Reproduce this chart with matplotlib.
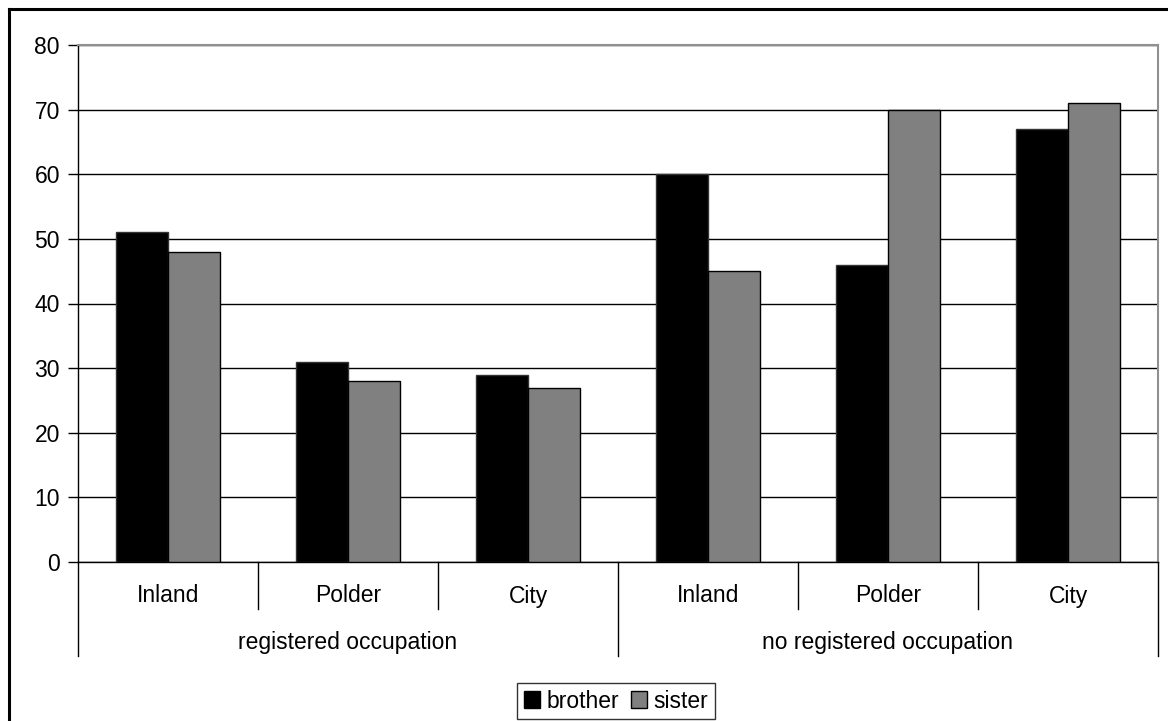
import matplotlib
matplotlib.use("Agg")
import matplotlib.pyplot as plt
from matplotlib.lines import Line2D
from matplotlib.patches import Patch
import numpy as np

plt.rcParams['font.family'] = ['Liberation Sans', 'DejaVu Sans']

categories = ["Inland", "Polder", "City", "Inland", "Polder", "City"]
groups = ["registered occupation", "no registered occupation"]
brother = [51, 31, 29, 60, 46, 67]
sister = [48, 28, 27, 45, 70, 71]
yticks = [0, 10, 20, 30, 40, 50, 60, 70, 80]

FS = 16.5
W, H = 1168, 721
fig = plt.figure(figsize=(W / 100, H / 100), dpi=100)
ax = fig.add_axes([78 / W, 1 - 562 / H, (1158 - 78) / W, (562 - 45) / H])

x = np.arange(len(categories))
bw = 0.29
ax.bar(x - bw / 2, brother, width=bw, color="black", edgecolor="#333333", linewidth=1, zorder=3)
ax.bar(x + bw / 2, sister, width=bw, color="#808080", edgecolor="black", linewidth=1, zorder=3)

ax.set_xlim(-0.5, len(categories) - 0.5)
ax.set_ylim(0, 80)
ax.set_yticks(yticks)
ax.tick_params(axis='y', direction='out', length=7, width=1, pad=6, labelsize=FS)
ax.set_xticks([])
ax.yaxis.grid(True, color="black", linewidth=1, zorder=0)
ax.set_axisbelow(True)

for s in ["top", "right"]:
    ax.spines[s].set_color("#909090")
    ax.spines[s].set_linewidth(1.5)
ax.spines["left"].set_color("black")
ax.spines["bottom"].set_color("black")
ax.spines["left"].set_linewidth(1)
ax.spines["bottom"].set_linewidth(1)

# category dividers below the axis: short within a group, long between groups
trans = ax.get_xaxis_transform()
short_y = -47 / 517
long_y = -94 / 517
for i in range(len(categories) + 1):
    xp = i - 0.5
    yb = long_y if i % 3 == 0 else short_y
    ax.plot([xp, xp], [0, yb], transform=trans, color="black", linewidth=1, clip_on=False)

for xi, lab in zip(x, categories):
    ax.text(xi, -34 / 517, lab, transform=trans, ha="center", va="center", fontsize=FS)
for gi, g in enumerate(groups):
    ax.text(gi * 3 + 1, -80 / 517, g, transform=trans, ha="center", va="center", fontsize=FS)

handles = [Patch(facecolor="black", edgecolor="black", label="brother"),
           Patch(facecolor="#808080", edgecolor="black", label="sister")]
leg = fig.legend(handles=handles, loc="center", bbox_to_anchor=(616 / W, 1 - 701 / H),
                 ncol=2, frameon=True, fancybox=False, fontsize=FS,
                 handlelength=0.7, handleheight=0.7, handletextpad=0.3,
                 columnspacing=0.5, borderpad=0.3, borderaxespad=0)
leg.get_frame().set_edgecolor("black")
leg.get_frame().set_linewidth(1)

# outer chart frame (left and top edges)
fig.add_artist(Line2D([9 / W, 9 / W], [0, 1 - 9 / H], transform=fig.transFigure, color="black", linewidth=2.2))
fig.add_artist(Line2D([9 / W, 1], [1 - 9 / H, 1 - 9 / H], transform=fig.transFigure, color="black", linewidth=2.2))

fig.savefig("out.png", dpi=100)
